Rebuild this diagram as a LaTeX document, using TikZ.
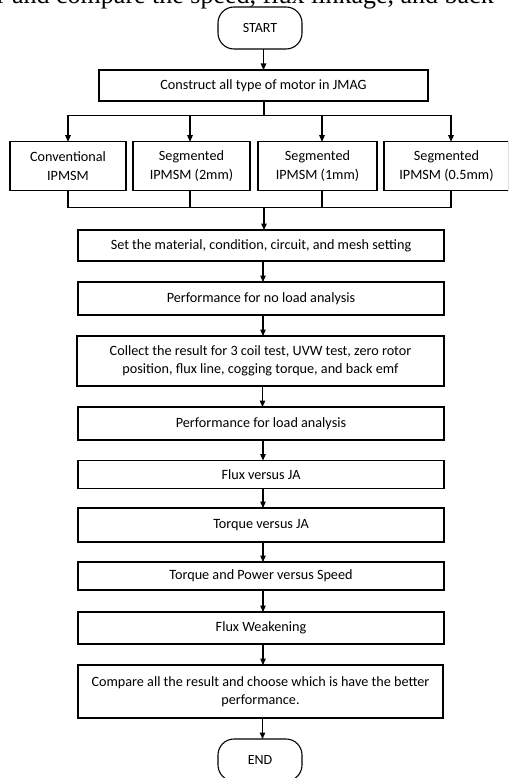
\documentclass[tikz,border=0pt]{standalone}
\usepackage{fontspec}
\setmainfont{Carlito}
\newfontfamily\captionserif{Liberation Serif}
\usetikzlibrary{arrows.meta}
\begin{document}
\begin{tikzpicture}[x=1pt,y=-1pt,
  every node/.style={inner sep=0pt, outer sep=0pt},
  proc/.style n args={2}{draw, line width=1.1pt, minimum width=#1pt, minimum height=#2pt,
    align=center, font=\fontsize{14.2}{18.3}\selectfont},
  term/.style={draw, line width=1.1pt, minimum width=84pt, minimum height=42pt,
    rounded corners=16pt, font=\fontsize{14}{16}\selectfont},
  ln/.style={line width=1.1pt},
  arr/.style={line width=1.1pt, -{Triangle[length=6.5pt,width=5.5pt]}}
]
\useasboundingbox (0,0) rectangle (508,778);
\clip (0,0) rectangle (508,778);

\node[anchor=base west, font=\captionserif\fontsize{26}{30}\selectfont] (caption) at (-3,3.5)
  {r and compare the speed, flux linkage, and back};

\node[term] (start) at (260,28) {START};
\node[proc={329}{31}] (construct) at (263.5,85.5) {Construct all type of motor in JMAG};
\node[proc={116}{48.5}] (b1) at (68,166) {Conventional\\IPMSM};
\node[proc={117}{48.5}] (b2) at (191.5,166) {Segmented\\IPMSM (2mm)};
\node[proc={119}{48.5}] (b3) at (317.5,166) {Segmented\\IPMSM (1mm)};
\node[proc={125}{48.5}] (b4) at (446.5,166) {Segmented\\IPMSM (0.5mm)};
\node[proc={366}{31}] (set) at (261,245.5) {Set the material, condition, circuit, and mesh setting};
\node[proc={366}{33}] (noload) at (261,298.5) {Performance for no load analysis};
\node[proc={367}{50}] (collect) at (260.5,361) {Collect the result for 3 coil test, UVW test, zero rotor\\position, flux line, cogging torque, and back emf};
\node[proc={366}{33}] (load) at (261,423.5) {Performance for load analysis};
\node[proc={366}{28}] (fluxja) at (261,474.5) {Flux versus JA};
\node[proc={366}{34}] (torqueja) at (261,525) {Torque versus JA};
\node[proc={366}{28}] (tps) at (261,576) {Torque and Power versus Speed};
\node[proc={366}{32}] (fw) at (261,628) {Flux Weakening};
\node[proc={365}{53}] (compare) at (260.5,691.5) {Compare all the result and choose which is have the better\\performance.};
\node[term] (end) at (260,760) {END};

% start -> construct
\draw[arr] (construct.north |- start.south) -- (construct.north);

% split to four variants
\path (construct.south) ++(0.5,14.5) coordinate (split);
\draw[ln] (construct.south -| split) -- (split);
\draw[arr] (split) -| (b1.north);
\draw[arr] (split) -| ([xshift=4.5pt]b4.north);
\draw[arr] ([xshift=-1.5pt]b2.north |- split) -- ([xshift=-1.5pt]b2.north);
\draw[arr] ([xshift=4.5pt]b3.north |- split) -- ([xshift=4.5pt]b3.north);

% merge
\path (split) ++(0,92) coordinate (merge);
\draw[ln] (b1.south) |- (merge -| b1.south) -- ([xshift=4.5pt]b4.south |- merge) -- ([xshift=4.5pt]b4.south);
\draw[ln] ([xshift=-1.5pt]b2.south) -- ([xshift=-1.5pt]b2.south |- merge);
\draw[ln] ([xshift=4.5pt]b3.south) -- ([xshift=4.5pt]b3.south |- merge);
\draw[arr] (merge) -- (merge |- set.north);

% main chain
\foreach \a/\b in {set/noload, noload/collect, collect/load, load/fluxja, fluxja/torqueja,
  torqueja/tps, tps/fw, fw/compare, compare/end}
  \draw[arr] ([xshift=2pt]\a.south) -- ([xshift=2pt]\a.south |- \b.north);
\end{tikzpicture}
\end{document}
